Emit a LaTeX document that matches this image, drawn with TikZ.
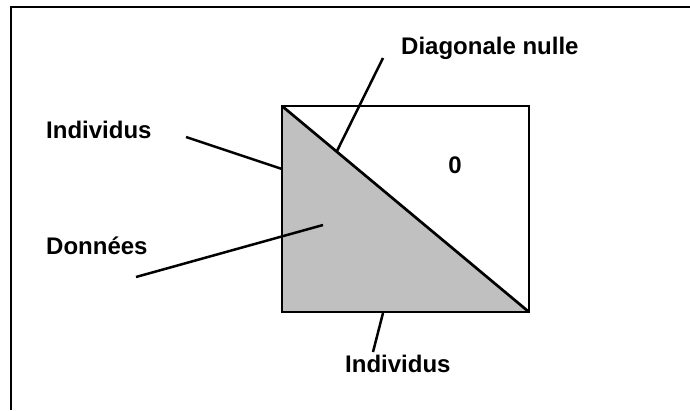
\documentclass[tikz,border=0pt]{standalone}
\usepackage{fontspec}
\setmainfont{Liberation Sans}
\usetikzlibrary{positioning, calc}

\begin{document}
\begin{tikzpicture}[
    x=1pt, y=-1pt,
    label/.style={
        font=\bfseries\fontsize{24}{28}\selectfont, inner sep=0pt,
        anchor=base west
    },
    frame/.style={line width=2pt},
    box/.style={line width=2.7pt, line join=miter},
    leader/.style={line width=2.5pt},
]
\useasboundingbox (0,0) rectangle (690,410);

% Frame
\draw[frame] (11,410) -- (11,7) -- (690,7);

% Matrix corners
\coordinate (tl) at (282,106);
\coordinate (tr) at (529,106);
\coordinate (bl) at (282,312);
\coordinate (br) at (529,312);

\fill[fill={rgb,255:red,192;green,192;blue,192}] (tl) -- (bl) -- (br) -- cycle;
\draw[box] (tl) rectangle (br);
\draw[box] (tl) -- (br);

% Nodes
\node[label] (indleft) at (46,138) {Individus};
\node[label] (donnees) at (46,254) {Données};
\node[label] (diag) at (401,54) {Diagonale nulle};
\node[label] (indbottom) at (345,372) {Individus};
\node[label, anchor=base] (zero) at (455,173) {0};

% Leader ends
\coordinate (a1) at (186,137);
\coordinate (a2) at (282,169);
\coordinate (b1) at (136,277);
\coordinate (b2) at (323,225);
\coordinate (c1) at (383,58);
\coordinate (c2) at (337,151);
\coordinate (d1) at (383,313);
\coordinate (d2) at (373,352);

% Leaders
\draw[leader] (a1) -- (a2);
\draw[leader] (b1) -- (b2);
\draw[leader] (c1) -- (c2);
\draw[leader] (d1) -- (d2);

\end{tikzpicture}
\end{document}
